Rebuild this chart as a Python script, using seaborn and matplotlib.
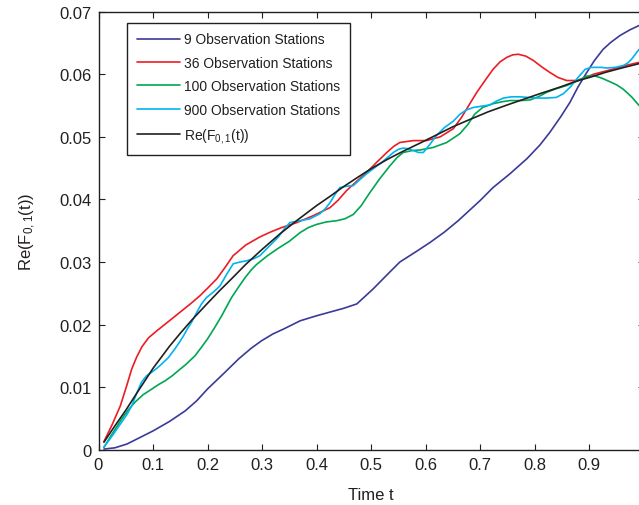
import numpy as np
import pandas as pd
import matplotlib
matplotlib.use('Agg')
import matplotlib.pyplot as plt
import seaborn as sns

# valores (t, Re(F_0,1(t)))
t_9 = [0.01, 0.03, 0.052, 0.075, 0.10, 0.13, 0.159, 0.18, 0.20, 0.23, 0.257, 0.28, 0.299, 0.32, 0.34,
       0.37, 0.40, 0.425, 0.45, 0.474, 0.504, 0.53, 0.553, 0.58, 0.608, 0.635, 0.66, 0.70, 0.724, 0.755,
       0.786, 0.81, 0.828, 0.848, 0.865, 0.88, 0.896, 0.91, 0.926, 0.94, 0.957, 0.975, 0.992]
y_9 = [0.0001, 0.0003, 0.0009, 0.0019, 0.0030, 0.0045, 0.0062, 0.0078, 0.0097, 0.0122, 0.0145, 0.0162,
       0.0174, 0.0185, 0.0193, 0.0206, 0.0214, 0.0220, 0.0226, 0.0233, 0.0257, 0.0280, 0.0300, 0.0315,
       0.0331, 0.0348, 0.0366, 0.0398, 0.0419, 0.0441, 0.0465, 0.0487, 0.0507, 0.0532, 0.0555, 0.0580,
       0.0603, 0.0622, 0.0640, 0.0651, 0.0662, 0.0671, 0.0678]

t_36 = [0.01, 0.025, 0.04, 0.052, 0.061, 0.07, 0.08, 0.092, 0.107, 0.13, 0.15, 0.17, 0.186, 0.2, 0.217,
        0.232, 0.247, 0.27, 0.296, 0.316, 0.336, 0.364, 0.394, 0.425, 0.44, 0.455, 0.475, 0.492, 0.51,
        0.529, 0.542, 0.553, 0.578, 0.602, 0.627, 0.651, 0.666, 0.68, 0.694, 0.71, 0.724, 0.737, 0.749,
        0.760, 0.770, 0.784, 0.798, 0.813, 0.828, 0.843, 0.859, 0.877, 0.892, 0.908, 0.93, 0.951, 0.972,
        0.992]
y_36 = [0.0013, 0.0040, 0.0070, 0.0103, 0.0129, 0.0148, 0.0165, 0.0179, 0.0190, 0.0206, 0.0220, 0.0234,
        0.0246, 0.0258, 0.0273, 0.0291, 0.0310, 0.0327, 0.0340, 0.0348, 0.0355, 0.0363, 0.0374, 0.0387,
        0.0399, 0.0414, 0.0430, 0.0443, 0.0459, 0.0475, 0.0485, 0.0491, 0.0494, 0.0494, 0.0500, 0.0513,
        0.0531, 0.0551, 0.0571, 0.0591, 0.0608, 0.0620, 0.0627, 0.0631, 0.0632, 0.0629, 0.0622, 0.0612,
        0.0603, 0.0595, 0.0590, 0.0590, 0.0594, 0.0600, 0.0605, 0.0610, 0.0615, 0.0619]

t_100 = [0.01, 0.025, 0.0425, 0.055, 0.067, 0.082, 0.098, 0.11, 0.122, 0.135, 0.146, 0.16, 0.177, 0.19,
         0.20, 0.213, 0.226, 0.244, 0.257, 0.269, 0.28, 0.29, 0.31, 0.33, 0.35, 0.37, 0.385, 0.40, 0.418,
         0.437, 0.452, 0.4675, 0.482, 0.498, 0.516, 0.535, 0.548, 0.559, 0.575, 0.59, 0.614, 0.639, 0.663,
         0.678, 0.69, 0.705, 0.724, 0.74, 0.755, 0.775, 0.792, 0.807, 0.822, 0.84, 0.859, 0.878, 0.896,
         0.908, 0.923, 0.9385, 0.951, 0.963, 0.978, 0.992]
y_100 = [0.0004, 0.0025, 0.0049, 0.0064, 0.0076, 0.0088, 0.0097, 0.0104, 0.0110, 0.0118, 0.0126, 0.0136,
         0.0150, 0.0165, 0.0177, 0.0195, 0.0214, 0.0243, 0.0260, 0.0275, 0.0287, 0.0296, 0.0310, 0.0322,
         0.0333, 0.0347, 0.0355, 0.0360, 0.0364, 0.0366, 0.0369, 0.0376, 0.0390, 0.0411, 0.0433, 0.0454,
         0.0467, 0.0475, 0.0478, 0.0479, 0.0483, 0.0491, 0.0505, 0.0520, 0.0536, 0.0547, 0.0553, 0.0556,
         0.0558, 0.0558, 0.0559, 0.0564, 0.0571, 0.0577, 0.0582, 0.0589, 0.0597, 0.0598, 0.0594, 0.0588,
         0.0583, 0.0576, 0.0564, 0.0550]

t_900 = [0.01, 0.025, 0.0425, 0.052, 0.061, 0.07, 0.079, 0.088, 0.098, 0.107, 0.116, 0.128, 0.14, 0.148,
         0.156, 0.163, 0.171, 0.18, 0.189, 0.198, 0.208, 0.216, 0.223, 0.235, 0.247, 0.26, 0.272, 0.284,
         0.296, 0.313, 0.33, 0.341, 0.351, 0.37, 0.388, 0.406, 0.416, 0.425, 0.434, 0.443, 0.455, 0.4675,
         0.48, 0.492, 0.504, 0.5165, 0.529, 0.541, 0.55, 0.559, 0.568, 0.578, 0.587, 0.596, 0.608, 0.62,
         0.635, 0.651, 0.663, 0.675, 0.688, 0.703, 0.718, 0.73, 0.743, 0.758, 0.773, 0.788, 0.804, 0.822,
         0.84, 0.853, 0.865, 0.879, 0.893, 0.904, 0.914, 0.923, 0.932, 0.948, 0.963, 0.971, 0.978, 0.985,
         0.992]
y_900 = [0.0004, 0.0022, 0.0044, 0.0056, 0.0070, 0.0090, 0.0108, 0.0118, 0.0124, 0.0130, 0.0137, 0.0147,
         0.0161, 0.0171, 0.0182, 0.0193, 0.0204, 0.0219, 0.0233, 0.0243, 0.0250, 0.0256, 0.0262, 0.0280,
         0.0297, 0.0300, 0.0302, 0.0305, 0.0310, 0.0325, 0.0340, 0.0353, 0.0363, 0.0366, 0.0369, 0.0377,
         0.0385, 0.0395, 0.0408, 0.0419, 0.0421, 0.0422, 0.0432, 0.0441, 0.0449, 0.0457, 0.0466, 0.0475,
         0.0480, 0.0482, 0.0481, 0.0478, 0.0475, 0.0475, 0.0488, 0.0502, 0.0515, 0.0525, 0.0536, 0.0543,
         0.0547, 0.0549, 0.0551, 0.0557, 0.0562, 0.0564, 0.0564, 0.0563, 0.0562, 0.0562, 0.0563, 0.0569,
         0.0579, 0.0594, 0.0608, 0.0611, 0.0611, 0.0611, 0.0610, 0.0611, 0.0614, 0.0618, 0.0624, 0.0632,
         0.0640]

t_ref = [0.01, 0.03, 0.05, 0.067, 0.085, 0.10, 0.13, 0.15, 0.171, 0.20, 0.222, 0.244, 0.27, 0.30, 0.333,
         0.365, 0.40, 0.425, 0.449, 0.475, 0.50, 0.53, 0.559, 0.59, 0.62, 0.65, 0.682, 0.715, 0.75, 0.78,
         0.81, 0.845, 0.877, 0.905, 0.93, 0.96, 0.992]
y_ref = [0.0012, 0.0038, 0.0063, 0.0086, 0.0110, 0.0130, 0.0165, 0.0186, 0.0207, 0.0234, 0.0254, 0.0273,
         0.0296, 0.0320, 0.0345, 0.0367, 0.0390, 0.0405, 0.0420, 0.0435, 0.0449, 0.0464, 0.0477, 0.0490,
         0.0503, 0.0516, 0.0528, 0.0540, 0.0551, 0.0560, 0.0569, 0.0579, 0.0589, 0.0596, 0.0603, 0.0610,
         0.0617]

labels = ['9 Observation Stations', '36 Observation Stations', '100 Observation Stations',
          '900 Observation Stations', r'Re(F$_{0,1}$(t))']
colores = ['#3a3a98', '#ed1c24', '#00a651', '#00b4ef', '#231f20']

series = [(t_9, y_9), (t_36, y_36), (t_100, y_100), (t_900, y_900), (t_ref, y_ref)]
data = pd.concat([pd.DataFrame({'t': t, 'valor': y, 'serie': lab})
                  for (t, y), lab in zip(series, labels)], ignore_index=True)

sns.set_style('ticks')
plt.rcParams['font.family'] = ['Liberation Sans', 'DejaVu Sans']
plt.rcParams['mathtext.default'] = 'regular'

fig = plt.figure(figsize=(6.39, 5.06), dpi=100)
ax = fig.add_axes([98.5 / 639, 55.3 / 506, 545 / 639, 438 / 506])

sns.lineplot(data=data, x='t', y='valor', hue='serie', hue_order=labels,
             palette=colores, sort=False, estimator=None, linewidth=1.2, ax=ax)

ax.set_xlim(0, 1)
ax.set_ylim(0, 0.07)
ax.set_xticks(np.arange(0, 0.95, 0.1))
ax.set_xticklabels(['0', '0.1', '0.2', '0.3', '0.4', '0.5', '0.6', '0.7', '0.8', '0.9'])
ax.set_yticks(np.arange(0, 0.0701, 0.01))
ax.set_yticklabels(['0', '0.01', '0.02', '0.03', '0.04', '0.05', '0.06', '0.07'])
ax.tick_params(direction='in', top=True, right=True, length=4, width=0.8,
               labelsize=12, pad=5, colors='#231f20')
for s in ax.spines.values():
    s.set_linewidth(1.0)
    s.set_color('#231f20')

ax.set_xlabel('Time t', fontsize=12, color='#231f20', labelpad=11)
ax.set_ylabel(r'Re(F$_{0,1}$(t))', fontsize=12, color='#231f20', labelpad=15)

leg = ax.legend(loc='upper left', bbox_to_anchor=(0.052, 0.975), fontsize=10,
                frameon=True, fancybox=False, framealpha=1, edgecolor='#231f20',
                handlelength=3.1, labelspacing=0.68, borderpad=0.7, handletextpad=0.3,
                borderaxespad=0)
leg.get_frame().set_linewidth(1.0)
for txt in leg.get_texts():
    txt.set_color('#231f20')

fig.savefig('out.png', dpi=100)
